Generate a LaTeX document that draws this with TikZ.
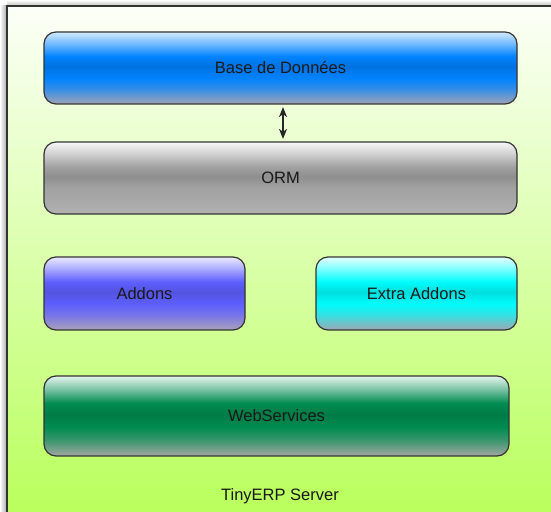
\documentclass[tikz,border=0pt]{standalone}
\usepackage{fontspec}
\setmainfont{Liberation Sans}
\usetikzlibrary{arrows.meta}
\definecolor{bgtop}{HTML}{FCFFF8}
\definecolor{bgbot}{HTML}{B9FF5C}
\definecolor{edge}{HTML}{333333}
\definecolor{bL}{HTML}{D2EAFF}\definecolor{bC}{HTML}{0082FF}\definecolor{bG}{HTML}{A0A4B4}
\definecolor{gL}{HTML}{F8F8F8}\definecolor{gC}{HTML}{A2A2A2}\definecolor{gG}{HTML}{B2B2B2}
\definecolor{pL}{HTML}{EAEAFF}\definecolor{pC}{HTML}{5E5EFF}\definecolor{pG}{HTML}{A8A2B8}
\definecolor{cL}{HTML}{E4FFFF}\definecolor{cC}{HTML}{00FCFC}\definecolor{cG}{HTML}{A0A8B0}
\definecolor{wL}{HTML}{E4F4EE}\definecolor{wC}{HTML}{008C50}\definecolor{wG}{HTML}{A2A8A2}
\newcommand\mkgloss[4]{%
  \colorlet{#1a}{#3!65!#4}\colorlet{#1b}{#3!88!black}\colorlet{#1c}{#2!55!#3}%
  \pgfdeclareverticalshading{#1}{100bp}{color(0bp)=(#4); color(25bp)=(#4); color(35bp)=(#1a); color(43bp)=(#3); color(51bp)=(#1b); color(58bp)=(#3); color(67bp)=(#1c); color(75bp)=(#2); color(100bp)=(#2)}}
\mkgloss{glossblue}{bL}{bC}{bG}
\mkgloss{glossgray}{gL}{gC}{gG}
\mkgloss{glosspurple}{pL}{pC}{pG}
\mkgloss{glosscyan}{cL}{cC}{cG}
\mkgloss{glossgreen}{wL}{wC}{wG}
\tikzset{
  layer/.style={rounded corners=12pt, draw=edge, line width=1.2pt, inner sep=0pt, text=black!90, font=\fontsize{16.5}{19}\selectfont},
  caption/.style={text=black!90, font=\fontsize{16.5}{19}\selectfont},
  dbl/.style={{Stealth[length=10pt,width=8pt,inset=3pt]}-{Stealth[length=10pt,width=8pt,inset=3pt]}, line width=1.3pt, draw=black!85}
}
\begin{document}
\begin{tikzpicture}[x=1pt,y=1pt]
\useasboundingbox (0,0) rectangle (551,511);
\fill[white] (0,0) rectangle (551,511);
% shadow of the frame
\shade[left color=white, right color=black!35] (0,0) rectangle (7,505);
\shade[bottom color=black!25, top color=white] (7,505) rectangle (551,511);
% frame background
\shade[top color=bgtop, bottom color=bgbot] (7,-2) rectangle (553,505);
\draw[edge, line width=1.5pt] (7,-2) -- (7,505) -- (553,505);
% layers
\node[layer, shading=glossblue, minimum width=473pt, minimum height=72pt] (db) at (280.5,443) {Base de Données};
\node[layer, shading=glossgray, minimum width=473pt, minimum height=72pt] (orm) at (280.5,333) {ORM};
\node[layer, shading=glosspurple, minimum width=201pt, minimum height=73pt] (addons) at (144.5,217.5) {Addons};
\node[layer, shading=glosscyan, minimum width=201pt, minimum height=73pt] (extra) at (416.5,217.5) {Extra Addons};
\node[layer, shading=glossgreen, minimum width=465pt, minimum height=80pt] (ws) at (276.5,95) {WebServices};
\node[caption] (server) at (280,14.5) {TinyERP Server};
\draw[dbl, shorten >=2.5pt, shorten <=2.5pt] ([xshift=2.5pt]db.south) -- ([xshift=2.5pt]orm.north);
\end{tikzpicture}
\end{document}
